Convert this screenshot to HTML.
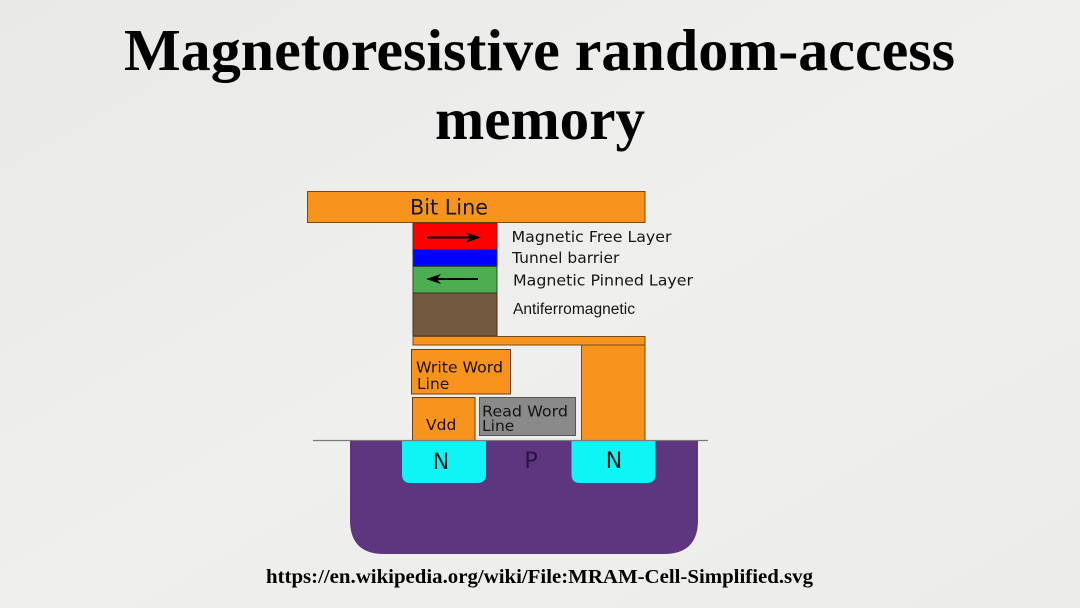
<!DOCTYPE html>
<html>
<head>
<meta charset="utf-8">
<style>
html,body{margin:0;padding:0;}
body{width:1080px;height:608px;overflow:hidden;background:#eeeeec;}
svg{display:block;}
</style>
</head>
<body>
<svg width="1080" height="608" viewBox="0 0 1080 608" xmlns="http://www.w3.org/2000/svg">
  <defs>
    <linearGradient id="bg" x1="0" y1="0" x2="1" y2="1">
      <stop offset="0" stop-color="#e9e9e7"/>
      <stop offset="0.5" stop-color="#efefed"/>
      <stop offset="1" stop-color="#ececea"/>
    </linearGradient>
  </defs>
  <rect x="0" y="0" width="1080" height="608" fill="url(#bg)"/>

  <!-- Title -->
  <text x="124" y="70" font-family="'Liberation Serif', serif" font-weight="bold" font-size="59" fill="#000" textLength="831" lengthAdjust="spacingAndGlyphs">Magnetoresistive random-access</text>
  <text x="435" y="139" font-family="'Liberation Serif', serif" font-weight="bold" font-size="59" fill="#000" textLength="210" lengthAdjust="spacingAndGlyphs">memory</text>

  <!-- Bit line -->
  <rect x="307.5" y="191.5" width="337.5" height="31" fill="#f8941e" stroke="#7a4a14" stroke-width="1"/>
  <text x="410" y="214.5" font-family="'DejaVu Sans', sans-serif" font-size="21" fill="#1a1a1a" textLength="78" lengthAdjust="spacingAndGlyphs">Bit Line</text>

  <!-- MTJ stack -->
  <rect x="413" y="223" width="84" height="26.5" fill="#ff0000" stroke="#5a2a10" stroke-width="1"/>
  <rect x="413" y="249.5" width="84" height="17" fill="#0000ff" stroke="#2a2a50" stroke-width="1"/>
  <rect x="413" y="266.5" width="84" height="26.5" fill="#4cae50" stroke="#2f4a2f" stroke-width="1"/>
  <rect x="413" y="293" width="84" height="43" fill="#735a3f" stroke="#3f3020" stroke-width="1"/>

  <!-- arrows -->
  <line x1="427" y1="237.5" x2="470" y2="237.5" stroke="#000" stroke-width="2"/>
  <path d="M481 237.5 L466 232.5 L470 237.5 L466 242.5 Z" fill="#000"/>
  <line x1="437" y1="279" x2="478" y2="279" stroke="#000" stroke-width="2"/>
  <path d="M426 279 L441 274 L437 279 L441 284 Z" fill="#000"/>

  <!-- layer labels -->
  <g font-family="'DejaVu Sans', sans-serif" fill="#151515">
    <text x="511.5" y="242" font-size="15.5" textLength="160" lengthAdjust="spacingAndGlyphs">Magnetic Free Layer</text>
    <text x="512" y="263" font-size="15.5">Tunnel barrier</text>
    <text x="513" y="285.5" font-size="15.5" textLength="180" lengthAdjust="spacingAndGlyphs">Magnetic Pinned Layer</text>
  </g>
  <text x="513" y="314" font-family="'Liberation Sans', sans-serif" font-size="15.5" fill="#151515" textLength="122" lengthAdjust="spacingAndGlyphs">Antiferromagnetic</text>

  <!-- connecting bar and right column -->
  <rect x="413" y="336.5" width="232" height="8.5" fill="#f8941e" stroke="#7a4a14" stroke-width="1"/>
  <rect x="581.5" y="345" width="63.5" height="95.5" fill="#f8941e" stroke="#7a4a14" stroke-width="1"/>

  <!-- Write Word Line -->
  <rect x="411.5" y="349.5" width="99" height="44.5" fill="#f8941e" stroke="#6a4010" stroke-width="1"/>
  <g font-family="'DejaVu Sans', sans-serif" fill="#1f0f00" font-size="15.5">
    <text x="416" y="372.5" textLength="87" lengthAdjust="spacingAndGlyphs">Write Word</text>
    <text x="417" y="389">Line</text>
  </g>

  <!-- Vdd -->
  <rect x="412.5" y="397.5" width="62.5" height="43" fill="#f8941e" stroke="#6a4010" stroke-width="1"/>
  <text x="426" y="430" font-family="'DejaVu Sans', sans-serif" fill="#1f0f00" font-size="15.5">Vdd</text>

  <!-- Read Word Line -->
  <rect x="479.5" y="397.5" width="96" height="38" fill="#8a8a8a" stroke="#555" stroke-width="1"/>
  <g font-family="'DejaVu Sans', sans-serif" fill="#151515" font-size="15.5">
    <text x="482" y="416.5" textLength="86" lengthAdjust="spacingAndGlyphs">Read Word</text>
    <text x="482" y="431">Line</text>
  </g>

  <!-- substrate -->
  <path d="M350 440.5 L698 440.5 L698 520 Q698 554 664 554 L384 554 Q350 554 350 520 Z" fill="#5e357f"/>
  <!-- N wells -->
  <path d="M402 440.5 L486 440.5 L486 474.5 Q486 483 477.5 483 L410.5 483 Q402 483 402 474.5 Z" fill="#0ff5f5"/>
  <path d="M571.5 440.5 L655.5 440.5 L655.5 474.5 Q655.5 483 647 483 L580 483 Q571.5 483 571.5 474.5 Z" fill="#0ff5f5"/>
  <!-- surface line -->
  <line x1="313" y1="440.5" x2="708" y2="440.5" stroke="#7a7a7a" stroke-width="1.2"/>

  <g font-family="'DejaVu Sans', sans-serif" font-size="22" text-anchor="middle">
    <text x="441" y="469" fill="#102020">N</text>
    <text x="531" y="468" fill="#2a1244">P</text>
    <text x="614" y="468" fill="#102020">N</text>
  </g>

  <!-- URL -->
  <text x="266" y="583" font-family="'Liberation Serif', serif" font-weight="bold" font-size="19.5" fill="#000" textLength="547" lengthAdjust="spacingAndGlyphs">https://en.wikipedia.org/wiki/File:MRAM-Cell-Simplified.svg</text>
</svg>
</body>
</html>
